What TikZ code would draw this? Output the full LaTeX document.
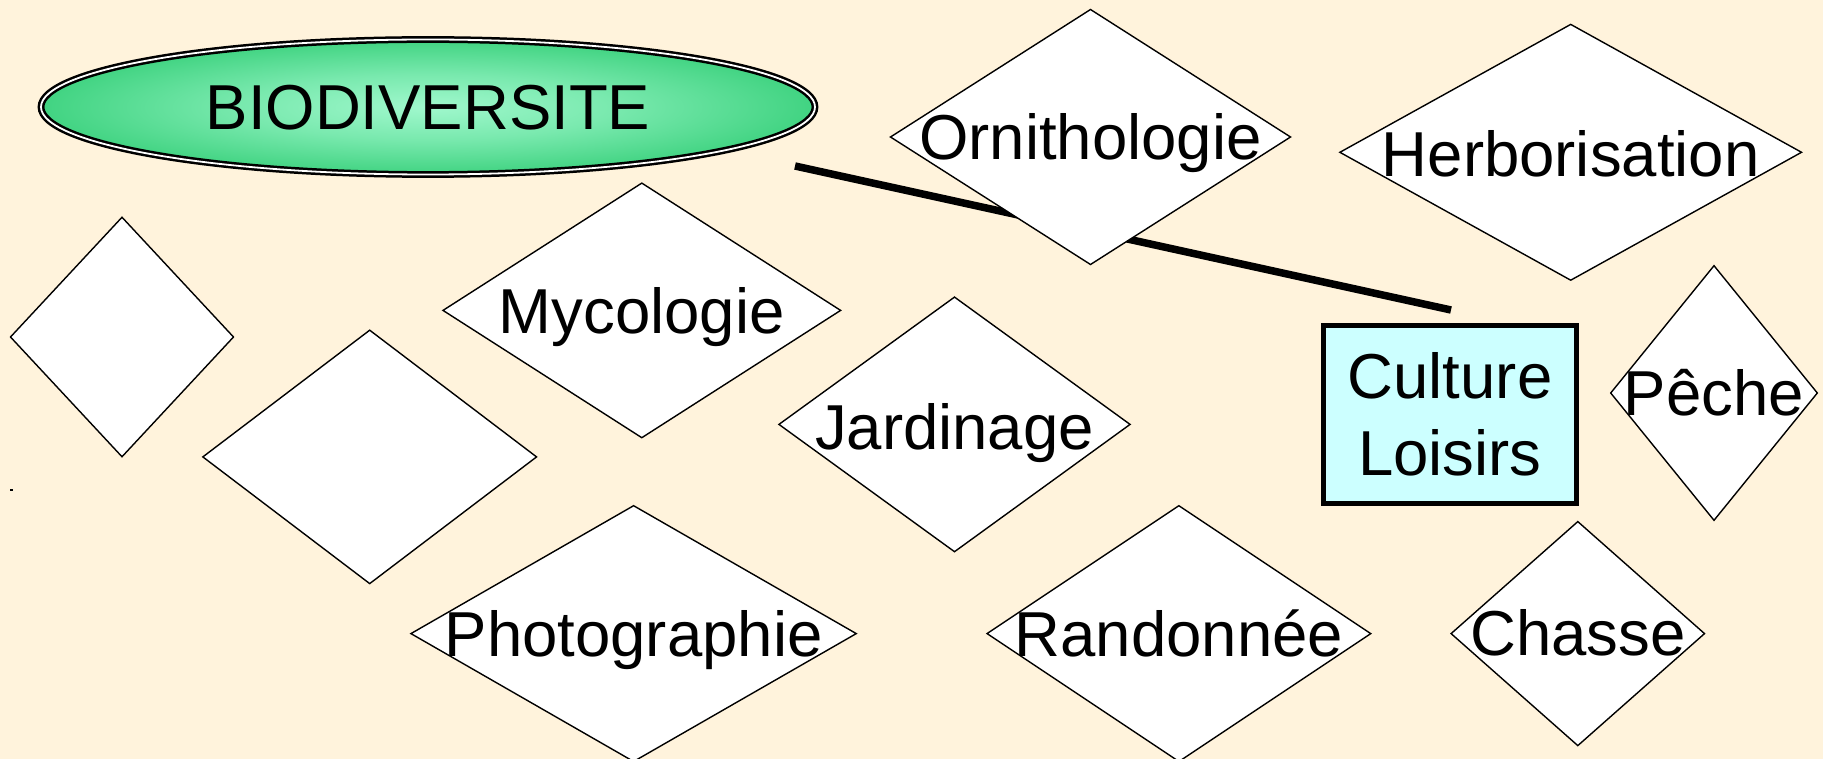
\documentclass[tikz,border=0pt]{standalone}
\usepackage{fontspec}
\setmainfont{Liberation Sans}
\usetikzlibrary{shapes.geometric}
\definecolor{paper}{RGB}{255,243,220}
\definecolor{bioin}{RGB}{160,248,205}
\definecolor{bioout}{RGB}{30,198,102}
\definecolor{boxcyan}{RGB}{204,255,255}
\pgfdeclareradialshading{bioshade}{\pgfpoint{0bp}{0bp}}{color(0bp)=(bioin); color(12bp)=(bioin!70!bioout); color(33bp)=(bioout); color(50bp)=(bioout)}
\newcommand{\bigfont}{\fontsize{63.5}{76.7}\selectfont}
\tikzset{
  dia/.style={diamond, draw=black, line width=1.4pt, fill=white, inner sep=0pt, outer sep=0pt},
  lbl/.style={font=\bigfont, inner sep=0pt, text height=45.5pt, text depth=0pt},
  link/.style={line width=7.5pt, draw=black},
}
\begin{document}
\begin{tikzpicture}[x=1pt,y=-1pt]
% page
\fill[paper] (0,0) rectangle (1823,759);
\useasboundingbox (0,0) rectangle (1823,759);
\fill[black] (10,488.5) rectangle (12.5,491);

% connector
\coordinate (l1) at (795,166);
\coordinate (l2) at (1451,310);
\draw[link] (l1) -- (l2);

% title
\node[ellipse, draw=black, line width=2.5pt, double=white, double distance=1.8pt,
      shade, shading=bioshade, minimum width=774pt, minimum height=135pt,
      inner sep=0pt, font=\bigfont, text height=45.5pt, text depth=0pt]
      (bio) at (428,107) {BIODIVERSITE};

% diamonds
\node[dia, minimum width=400pt, minimum height=255pt] (orn) at (1090.5,137) {};
\node[dia, minimum width=461.6pt, minimum height=255.8pt] (herb) at (1570.7,152.3) {};
\node[dia, minimum width=223pt, minimum height=239.5pt] (empa) at (122,337) {};
\node[dia, minimum width=397.6pt, minimum height=254.6pt] (myco) at (641.8,310.4) {};
\node[dia, minimum width=333.7pt, minimum height=253.4pt] (empb) at (369.7,456.9) {};
\node[dia, minimum width=351.1pt, minimum height=254.6pt] (jard) at (954.5,424.4) {};
\node[dia, minimum width=206.6pt, minimum height=254.6pt] (peche) at (1714,393) {};
\node[dia, minimum width=253.4pt, minimum height=224pt] (chasse) at (1577.8,633.6) {};
\node[dia, minimum width=445.3pt, minimum height=255.8pt] (photo) at (633.6,633.6) {};
\node[dia, minimum width=383.7pt, minimum height=255.8pt] (rando) at (1178.9,633.6) {};

% box
\node[draw=black, line width=5pt, fill=boxcyan, minimum width=253pt, minimum height=178pt,
      inner sep=0pt, font=\bigfont, align=center] (cult) at (1450,414) {Culture\\Loisirs};

% labels
\node[lbl] (orn-t) at (1090.5,137) {Ornithologie};
\node[lbl] (herb-t) at (1570.7,154) {Herborisation};
\node[lbl] (myco-t) at (641.8,311) {Mycologie};
\node[lbl] (jard-t) at (954.5,426.7) {Jardinage};
\node[lbl] (peche-t) at (1714,393) {Pêche};
\node[lbl] (chasse-t) at (1577.8,633) {Chasse};
\node[lbl] (photo-t) at (633.6,633.6) {Photographie};
\node[lbl] (rando-t) at (1178.9,633.6) {Randonnée};
\end{tikzpicture}
\end{document}
